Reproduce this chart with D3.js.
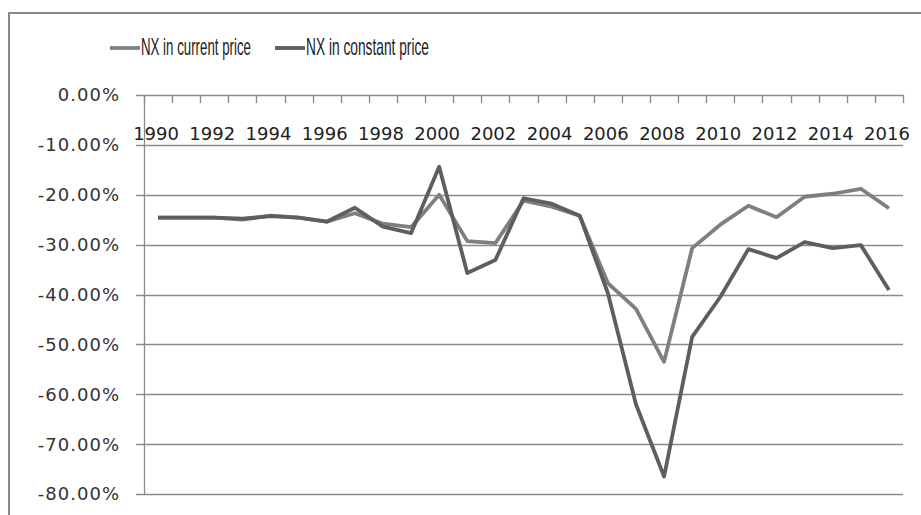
<!DOCTYPE html>
<html>
<head>
<meta charset="utf-8">
<script src="https://cdn.jsdelivr.net/npm/d3@7"></script>
<style>
  body { margin: 0; background: #fff; }
  svg { display: block; }
</style>
</head>
<body>
<svg id="chart" width="921" height="515"></svg>
<script>
// Data (net exports, % of GDP)
const years = d3.range(1990, 2017).map(String);
const currentPrice = [-24.6, -24.6, -24.6, -25.0, -24.2, -24.6, -25.4, -23.7, -25.8, -26.5,
  -20.0, -29.3, -29.7, -21.2, -22.4, -24.2, -37.7, -42.9, -53.5, -30.7,
  -26.0, -22.2, -24.5, -20.4, -19.8, -18.8, -22.7];
const constantPrice = [-24.6, -24.6, -24.6, -24.8, -24.3, -24.6, -25.4, -22.6, -26.4, -27.7,
  -14.4, -35.7, -33.1, -20.7, -21.8, -24.2, -39.7, -62.0, -76.5, -48.5,
  -40.5, -30.9, -32.7, -29.5, -30.7, -30.1, -39.1];
const yTicks = [0, -10, -20, -30, -40, -50, -60, -70, -80];
const xLabels = years.filter((d, i) => i % 2 === 0);
const seriesNames = ["NX in current price", "NX in constant price"];
const seriesColors = ["#7f7f7f", "#5e5e5e"];

const svg = d3.select("#chart");
const plotL = 144, plotR = 903, plotT = 95, plotB = 494;

// outer frame
svg.append("path")
  .attr("d", "M9,515 V13 H921")
  .attr("fill", "none")
  .attr("stroke", "#888")
  .attr("stroke-width", 2);

const x = d3.scaleBand().domain(years).range([plotL, plotR]);
const y = d3.scaleLinear().domain([-80, 0]).range([plotB, plotT]);

// gridlines
svg.append("g")
  .selectAll("line")
  .data(yTicks)
  .join("line")
    .attr("x1", plotL - 8)
    .attr("x2", plotR)
    .attr("y1", d => Math.round(y(d)) + 0.5)
    .attr("y2", d => Math.round(y(d)) + 0.5)
    .attr("stroke", "#8a8a8a")
    .attr("stroke-width", 1.3);

// y axis line
svg.append("line")
  .attr("x1", plotL + 0.5).attr("x2", plotL + 0.5)
  .attr("y1", plotT).attr("y2", plotB)
  .attr("stroke", "#8a8a8a")
  .attr("stroke-width", 1.3);

// y labels (plain hyphen, like Excel)
svg.append("g")
  .selectAll("text")
  .data(yTicks)
  .join("text")
    .attr("x", 120)
    .attr("y", d => y(d))
    .attr("dy", "0.36em")
    .attr("text-anchor", "end")
    .attr("font-family", "DejaVu Sans")
    .attr("font-size", 18)
    .attr("letter-spacing", 1)
    .attr("fill", "#333")
    .text(d => d.toFixed(2).replace("\u2212", "-") + "%");

// category ticks on the 0% line
const tickPos = years.map(d => x(d)).concat([plotR]);
svg.append("g")
  .selectAll("line")
  .data(tickPos)
  .join("line")
    .attr("x1", d => Math.round(d) + 0.5)
    .attr("x2", d => Math.round(d) + 0.5)
    .attr("y1", plotT)
    .attr("y2", plotT + 8)
    .attr("stroke", "#8a8a8a")
    .attr("stroke-width", 1.3);

// x labels
svg.append("g")
  .selectAll("text")
  .data(xLabels)
  .join("text")
    .attr("x", d => x(d) + x.bandwidth() / 2 - 2)
    .attr("y", 134)
    .attr("dy", "0.36em")
    .attr("text-anchor", "middle")
    .attr("font-family", "DejaVu Sans")
    .attr("font-size", 18)
    .attr("fill", "#222")
    .text(d => d);

// lines
const line = d3.line()
  .x((d, i) => x(years[i]) + x.bandwidth() / 2)
  .y(d => y(d));

[currentPrice, constantPrice].forEach((s, k) => {
  svg.append("path")
    .datum(s)
    .attr("d", line)
    .attr("fill", "none")
    .attr("stroke", seriesColors[k])
    .attr("stroke-width", 3.8)
    .attr("stroke-linejoin", "round");
});

// legend (narrow text squeezed with a scale, like the original)
const legendX = [110, 275];
const legendW = [110, 123];
const lg = svg.append("g");
seriesNames.forEach((name, k) => {
  lg.append("line")
    .attr("x1", legendX[k]).attr("x2", legendX[k] + 30)
    .attr("y1", 48).attr("y2", 48)
    .attr("stroke", seriesColors[k])
    .attr("stroke-width", 3.8);
  const t = lg.append("text")
    .attr("dy", "0.36em")
    .attr("font-family", "Liberation Sans")
    .attr("font-size", 23)
    .attr("fill", "#222")
    .text(name);
  const sx = legendW[k] / t.node().getComputedTextLength();
  t.attr("transform", `translate(${legendX[k] + 31},47) scale(${sx},1)`);
});
</script>
</body>
</html>
